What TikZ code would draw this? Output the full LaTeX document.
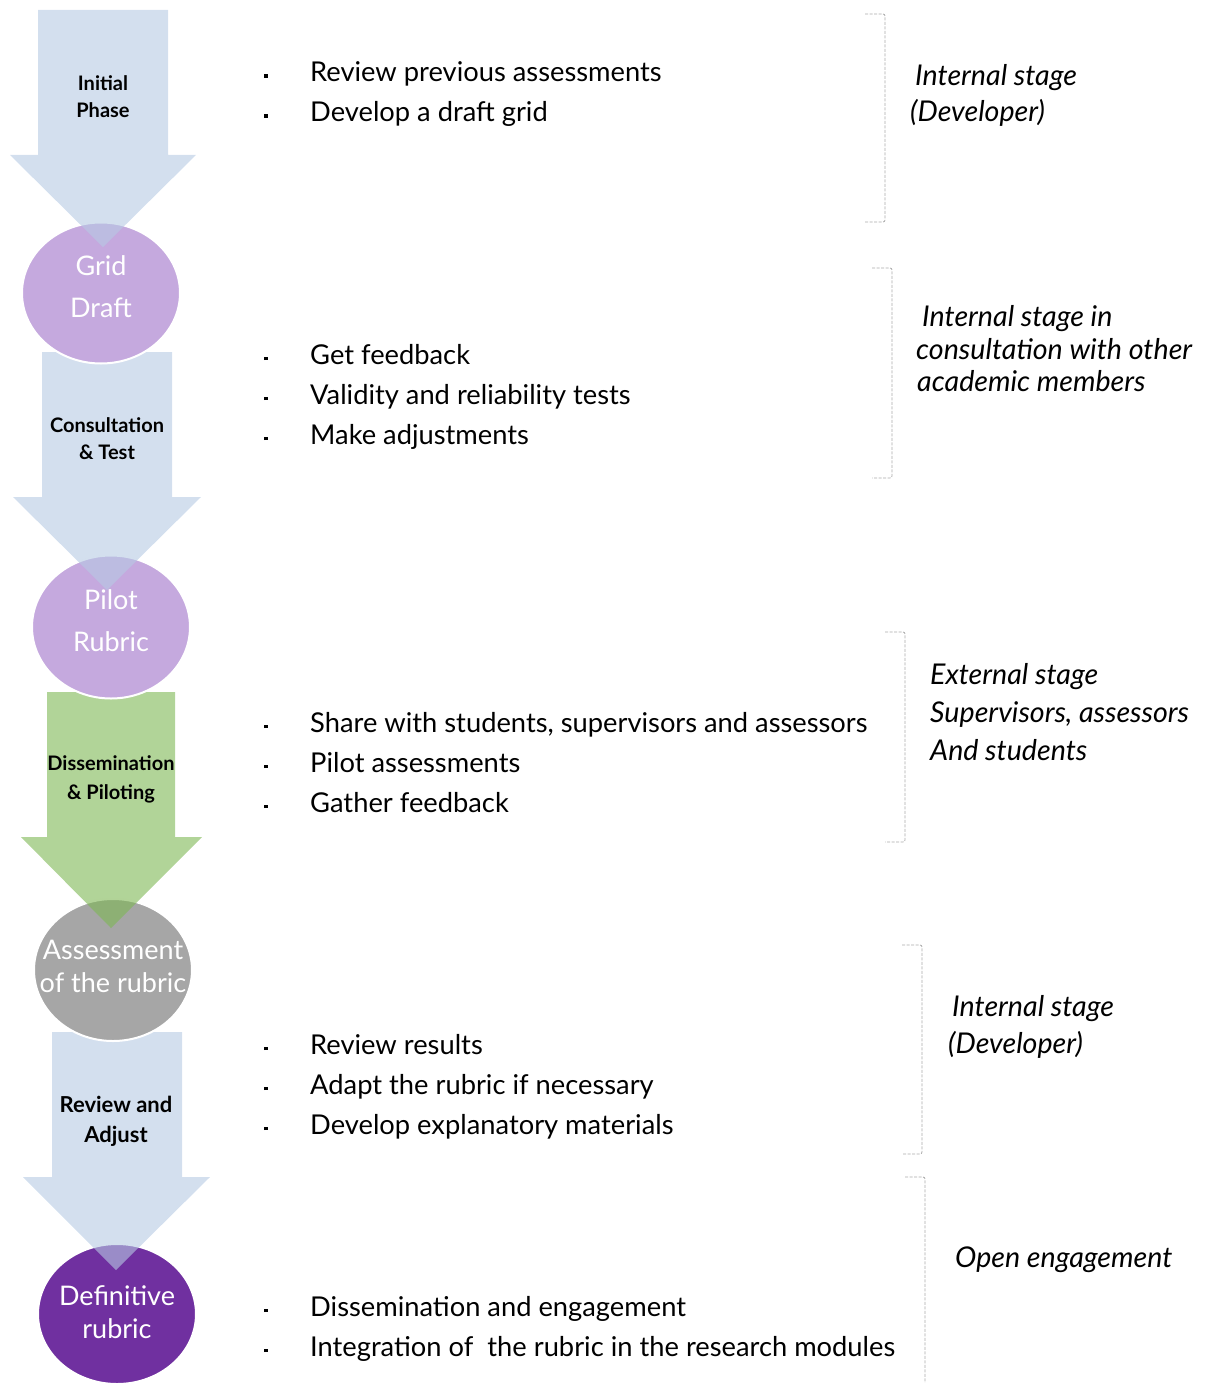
\documentclass[tikz,border=0pt]{standalone}
\usepackage{fontspec}
\setmainfont{Lato}
\usetikzlibrary{shapes.geometric}
\definecolor{arrowblue}{RGB}{182,202,227}
\definecolor{arrowgreen}{RGB}{125,183,83}
\definecolor{lavender}{RGB}{197,169,222}
\definecolor{stonegray}{RGB}{166,166,166}
\definecolor{deeppurple}{RGB}{112,48,160}
\definecolor{bracketgray}{RGB}{170,170,170}
\newcommand{\sqbullet}{\rule[4pt]{3.5pt}{3.5pt}}
\tikzset{
  flow/.style={opacity=0.6},
  stagecircle/.style={ellipse, draw=white, line width=2pt, inner sep=0pt},
  circletext/.style={text=white, font=\fontsize{27}{42}\selectfont, align=center, inner sep=0pt},
  arrowlabel/.style={font=\bfseries\fontsize{20}{27}\selectfont, align=center, text=black, inner sep=0pt},
  item/.style={anchor=base west, font=\fontsize{27.3}{27}\selectfont, inner sep=0pt},
  dot/.style={anchor=base, inner sep=0pt},
  stagenote/.style={anchor=base west, font=\itshape\fontsize{28.6}{28}\selectfont, inner sep=0pt},
  bracket/.style={draw=bracketgray, dashed, dash pattern=on 3pt off 1.5pt, line width=0.8pt, rounded corners=2pt}
}
\begin{document}
\begin{tikzpicture}[x=1pt,y=-1pt]
\useasboundingbox (0,0) rectangle (1204,1383);

% ---- left column: stages drawn bottom-up so each circle covers the next shaft
\node[stagecircle, fill=deeppurple, minimum width=158pt, minimum height=140pt] (c4) at (117,1314) {};
\fill[arrowblue, flow] (52,1032) -- (182,1032) -- (182,1177) -- (210,1177) -- (116,1270) -- (23,1177) -- (52,1177) -- cycle;
\node[stagecircle, fill=stonegray, minimum width=158pt, minimum height=142pt] (c3) at (113,970) {};
\fill[arrowgreen, flow] (47,692) -- (175,692) -- (175,837) -- (202,837) -- (111,928) -- (21,837) -- (47,837) -- cycle;
\node[stagecircle, fill=lavender, minimum width=158pt, minimum height=143pt] (c2) at (111,627) {};
\fill[arrowblue, flow] (42,352) -- (172,352) -- (172,497) -- (201,497) -- (107,590) -- (13,497) -- (42,497) -- cycle;
\node[stagecircle, fill=lavender, minimum width=158pt, minimum height=141pt] (c1) at (101,293) {};
\fill[arrowblue, flow] (38,10) -- (168,10) -- (168,155) -- (196,155) -- (103,247) -- (10,155) -- (38,155) -- cycle;

\node[circletext] (t1) at ([yshift=6pt]c1) {Grid\\Draft};
\node[circletext] (t2) at ([yshift=6pt]c2) {Pilot\\Rubric};
\node[circletext, font=\fontsize{27}{33}\selectfont] (t3) at ([yshift=4pt]c3) {Assessment\\of the rubric};
\node[circletext, font=\fontsize{27}{33}\selectfont] (t4) at ([yshift=2pt]c4) {Definitive\\rubric};

\node[arrowlabel] (a1) at (103,96.5) {Initial\\Phase};
\node[arrowlabel] (a2) at (107,439) {Consultation\\\& Test};
\node[arrowlabel, font=\bfseries\fontsize{20}{29}\selectfont] (a3) at (111,779) {Dissemination\\\& Piloting};
\node[arrowlabel, font=\bfseries\fontsize{22}{30}\selectfont] (a4) at (116,1121) {Review and\\Adjust};

% ---- middle column: activities
\foreach \n/\y/\t in {
  i1/82/Review previous assessments,
  i2/122/Develop a draft grid,
  i3/364/Get feedback,
  i4/404/Validity and reliability tests,
  i5/444/Make adjustments,
  i6/732/{Share with students, supervisors and assessors},
  i7/772/Pilot assessments,
  i8/812/Gather feedback,
  i9/1054/Review results,
  i10/1094/Adapt the rubric if necessary,
  i11/1134/Develop explanatory materials,
  i12/1316/Dissemination and engagement,
  i13/1356/Integration of\ \ the rubric in the research modules}{
  \node[dot] (d\n) at (266,\y) {\sqbullet};
  \node[item] (\n) at (310,\y) {\t};
}

% ---- right column: stage brackets and notes
\draw[bracket] (865,14) -- (885,14) -- (885,222) -- (865,222);
\draw[bracket] (872,268) -- (892,268) -- (892,478) -- (872,478);
\draw[bracket] (885,632) -- (905,632) -- (905,842) -- (885,842);
\draw[bracket] (902,945) -- (922,945) -- (922,1154) -- (902,1154);
\draw[bracket] (905,1177) -- (925,1177) -- (925,1383);

\node[stagenote] (n1a) at (915,86) {Internal stage};
\node[stagenote] (n1b) at (910,122) {(Developer)};
\node[stagenote] (n2a) at (922,326) {Internal stage in};
\node[stagenote] (n2b) at (916,359) {consultation with other};
\node[stagenote] (n2c) at (917,391) {academic members};
\node[stagenote] (n3a) at (930,684) {External stage};
\node[stagenote] (n3b) at (930,722) {Supervisors, assessors};
\node[stagenote] (n3c) at (930,760) {And students};
\node[stagenote] (n4a) at (952,1016) {Internal stage};
\node[stagenote] (n4b) at (948,1053) {(Developer)};
\node[stagenote] (n5) at (955,1267) {Open engagement};
\end{tikzpicture}
\end{document}
